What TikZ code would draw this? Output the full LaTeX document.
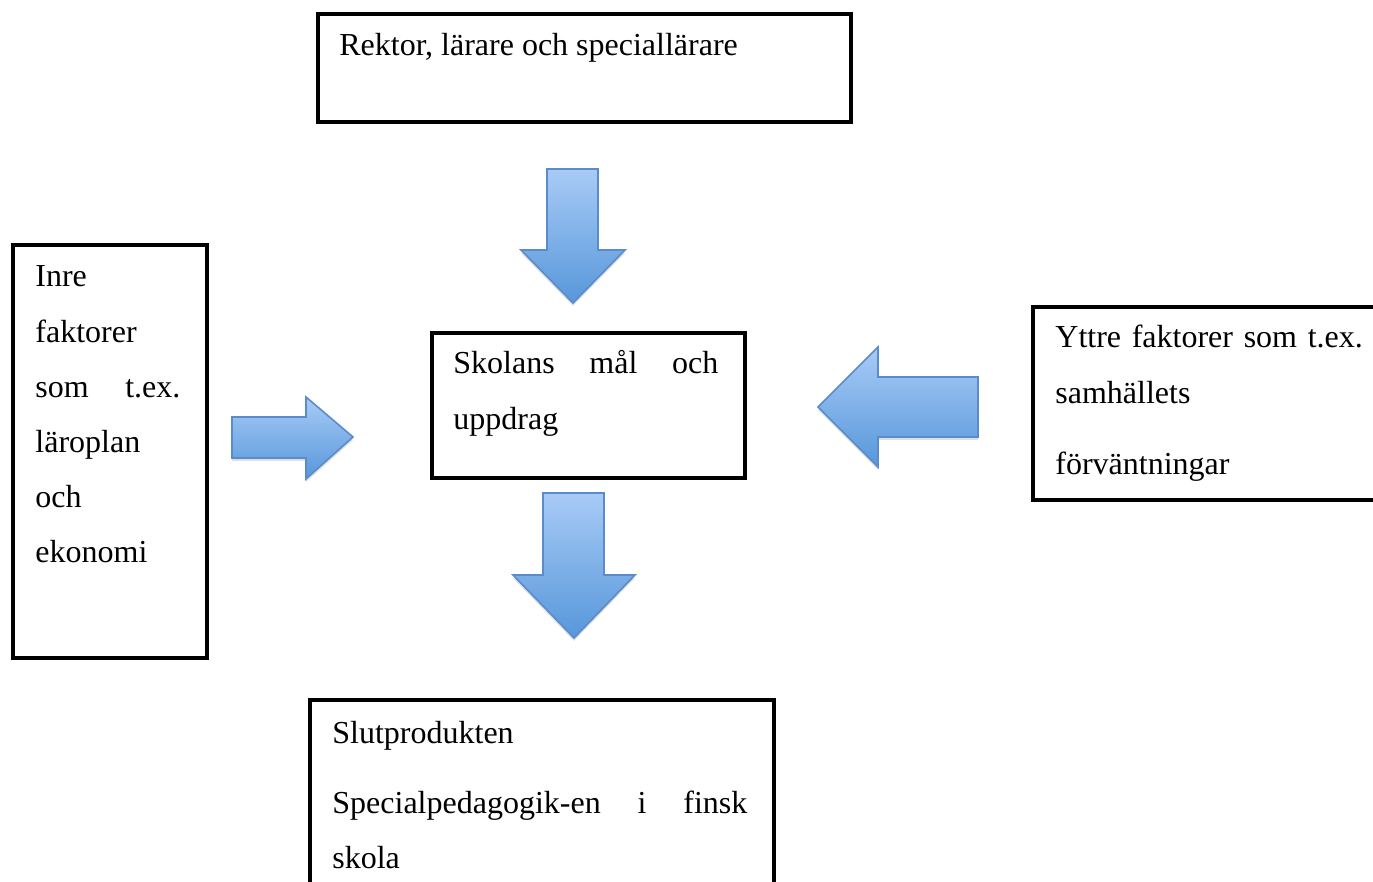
\documentclass[tikz,border=0pt]{standalone}
\usepackage{fontspec}
\setmainfont{Liberation Serif}
\usepackage{tikz}
\usetikzlibrary{calc,shadows}
\definecolor{arrowlight}{HTML}{A8CBF6}
\definecolor{arrowdark}{HTML}{5797DA}
\definecolor{arrowedge}{HTML}{5A8CCB}

\begin{document}
\begin{tikzpicture}[
  x=0.5pt,y=-0.5pt,
  box/.style={draw=black,line width=2pt,rectangle,anchor=north west,inner sep=0pt},
  txt/.style={anchor=base west,inner sep=0pt,align=left,
              font=\fontsize{16pt}{27.6pt}\selectfont},
  blockarrow/.style={top color=arrowlight,bottom color=arrowdark,draw=arrowedge,
                     line width=0.8pt,
                     drop shadow={shadow xshift=0pt,shadow yshift=-1.5pt,opacity=0.25}}
]
  \useasboundingbox (0,0) rectangle (1373,882);
  % the boxes
  \node[box,minimum width=266.5pt,minimum height=54pt] (staff) at (316,12) {};
  \node[box,minimum width=97pt,minimum height=206.5pt] (inner) at (11,243) {};
  \node[box,minimum width=156.5pt,minimum height=72.5pt] (goal) at (430,331) {};
  \node[box,minimum width=184.5pt,minimum height=96.5pt] (outer) at (1031,305) {};
  \node[box,minimum width=232pt,minimum height=101pt] (result) at (308,698) {};
  % their texts
  \node[txt] (staffText) at ($(staff.north west)+(23,44)$)
    {Rektor, lärare och speciallärare};
  \node[txt,text width=72.5pt] (innerText) at ($(inner.north west)+(24,44)$)
    {Inre\\faktorer\\som\hfill t.ex.\\läroplan\\och\\ekonomi};
  \node[txt,text width=132.5pt] (goalText) at ($(goal.north west)+(23,43)$)
    {Skolans\hfill mål\hfill och\\uppdrag};
  \node[txt,text width=175pt] (outerText) at ($(outer.north west)+(24,43)$)
    {Yttre faktorer som t.ex.\\samhällets\\[8pt]förväntningar};
  \node[txt,text width=207.5pt] (resultText) at ($(result.north west)+(24,45)$)
    {Slutprodukten\\[7.5pt]Specialpedagogik-en\hfill i\hfill finsk\\skola};
  % block arrows
  \path[blockarrow] (547,169) -- (598,169) -- (598,250) -- (625,250) -- (573,303)
    -- (521,250) -- (547,250) -- cycle;
  \path[blockarrow] (543,493) -- (604,493) -- (604,575) -- (635,575) -- (574,638)
    -- (513,575) -- (543,575) -- cycle;
  \path[blockarrow] (232,417) -- (306,417) -- (306,397) -- (353,437) -- (306,479)
    -- (306,458) -- (232,458) -- cycle;
  \path[blockarrow] (978,377) -- (878,377) -- (878,347) -- (818,407) -- (878,467)
    -- (878,437) -- (978,437) -- cycle;
\end{tikzpicture}
\end{document}
